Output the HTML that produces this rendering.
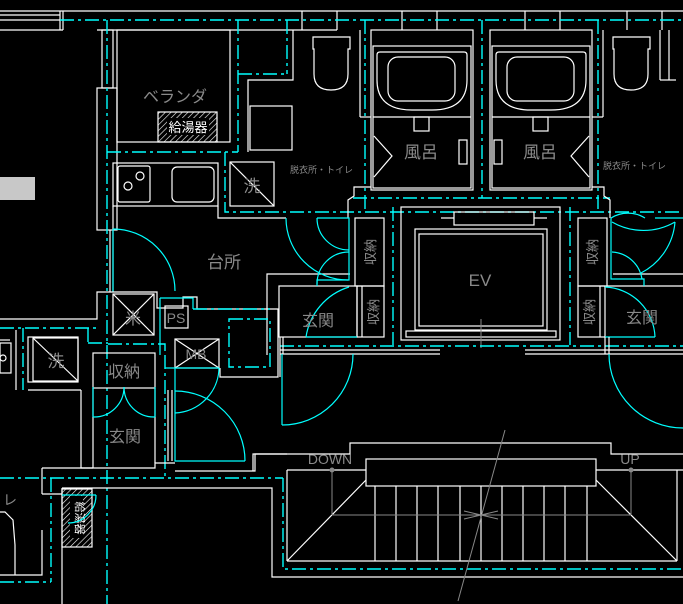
<!DOCTYPE html>
<html><head><meta charset="utf-8"><style>
html,body{margin:0;padding:0;background:#000;}
svg{display:block}
.w{stroke:#fff;stroke-width:1.2;fill:none}
.c{stroke:#00ffff;stroke-width:1.2;fill:none}
.d{stroke:#00ffff;stroke-width:1.4;fill:none;stroke-dasharray:14 4 3 4}
.g{stroke:#888;stroke-width:1;fill:none}
text{font-family:"Liberation Sans","Noto Sans CJK JP",sans-serif;fill:#8a8a8a}
</style></head><body>
<svg width="683" height="604" viewBox="0 0 683 604" xmlns="http://www.w3.org/2000/svg">
<defs>
<pattern id="h" width="4" height="4" patternUnits="userSpaceOnUse" patternTransform="rotate(45)"><line x1="0" y1="0" x2="0" y2="4" stroke="#fff" stroke-width="1.2"/></pattern>
</defs>
<rect width="683" height="604" fill="#000"/>
<line class="w" x1="0" y1="11" x2="683" y2="11"/>
<line class="w" x1="0" y1="15" x2="60" y2="15"/>
<line class="w" x1="0" y1="20" x2="60" y2="20"/>
<line class="w" x1="0" y1="30" x2="63" y2="30"/>
<line class="w" x1="60" y1="11" x2="60" y2="30"/>
<line class="w" x1="63" y1="11" x2="63" y2="30"/>
<line class="w" x1="97" y1="30" x2="302" y2="30"/>
<line class="w" x1="302" y1="11" x2="302" y2="30"/>
<line class="w" x1="337" y1="11" x2="337" y2="30"/>
<line class="w" x1="302" y1="30" x2="337" y2="30"/>
<line class="w" x1="402" y1="11" x2="402" y2="30"/>
<line class="w" x1="437" y1="11" x2="437" y2="30"/>
<line class="w" x1="525" y1="11" x2="525" y2="30"/>
<line class="w" x1="560" y1="11" x2="560" y2="30"/>
<line class="w" x1="627" y1="11" x2="627" y2="30"/>
<line class="w" x1="662" y1="11" x2="662" y2="30"/>
<line class="d" x1="60" y1="20" x2="683" y2="20"/>
<rect class="w" x="102" y="30" width="11" height="58"/>
<rect class="w" x="97" y="88" width="20" height="142"/>
<line class="d" x1="107" y1="20" x2="107" y2="604"/>
<rect class="w" x="117" y="30" width="113" height="112"/>
<rect x="158" y="112" width="59" height="30" fill="url(#h)" stroke="#fff" stroke-width="1.2"/>
<rect x="167" y="118" width="42" height="17" fill="#000"/>
<text x="188" y="132" font-size="13" text-anchor="middle" style="fill:#fff">給湯器</text>
<text x="175" y="102" font-size="16" text-anchor="middle">ベランダ</text>
<line class="d" x1="238" y1="20" x2="238" y2="152"/>
<line class="d" x1="107" y1="152" x2="238" y2="152"/>
<line class="d" x1="238" y1="74" x2="287" y2="74"/>
<line class="d" x1="287" y1="20" x2="287" y2="74"/>
<polyline class="w" points="248,152 248,80 293,80 293,30"/>
<rect class="w" x="250" y="106" width="42" height="44"/>
<rect x="0" y="177" width="35" height="23" fill="#c8c8c8"/>
<rect class="w" x="113" y="163" width="105" height="43"/>
<rect class="w" x="118" y="166" width="32" height="36" rx="2"/>
<circle cx="140" cy="176" r="4" class="w"/><circle cx="128" cy="186" r="4" class="w"/>
<rect class="w" x="172" y="167" width="42" height="35" rx="5"/>
<polyline class="w" points="218,206 218,218 286,218"/>
<polyline class="d" points="225,152 225,212 683,212"/>
<rect class="w" x="230" y="162" width="44" height="44"/>
<line class="w" x1="230" y1="162" x2="274" y2="206"/>
<text x="252" y="192" font-size="17" text-anchor="middle">洗</text>
<text x="290" y="173" font-size="9">脱衣所・トイレ</text>
<text x="603" y="169" font-size="9">脱衣所・トイレ</text>
<line class="w" x1="113" y1="206" x2="113" y2="292"/>
<line class="w" x1="110" y1="230" x2="110" y2="292"/>
<path class="c" d="M113,229 A62,62 0 0 1 175,291"/>
<line class="c" x1="113" y1="229" x2="113" y2="292"/>
<text x="224" y="268" font-size="17" text-anchor="middle">台所</text>
<path class="w" d="M313,37 h37 v12 h-2 v25 q0,16 -17,16 q-17,0 -17,-16 v-25 h-1z"/>
<path class="w" d="M613,37 h37 v12 h-2 v25 q0,16 -17,16 q-17,0 -17,-16 v-25 h-1z"/>
<line class="w" x1="660" y1="30" x2="660" y2="80"/><line class="w" x1="660" y1="80" x2="676" y2="80"/>
<line class="w" x1="669" y1="30" x2="669" y2="80"/>
<g>
<rect class="w" x="371" y="30" width="102" height="160"/>
<rect class="w" x="373" y="46" width="98" height="142"/>
<path class="w" d="M377,55 q0,-3 3,-3 h84 q3,0 3,3 v25 q0,30 -35,30 h-20 q-35,0 -35,-30z"/>
<rect class="w" x="388" y="57" width="67" height="44" rx="10"/>
<line class="w" x1="373" y1="117" x2="471" y2="117"/>
<rect class="w" x="414" y="117" width="15" height="14"/>
<polyline class="w" points="374,136 392,156 374,177"/>
<rect class="w" x="459" y="140" width="8" height="24"/>
<text x="421" y="158" font-size="17" text-anchor="middle">風呂</text>
</g>
<g>
<rect class="w" x="490" y="30" width="102" height="160"/>
<rect class="w" x="492" y="46" width="98" height="142"/>
<path class="w" d="M496,55 q0,-3 3,-3 h84 q3,0 3,3 v25 q0,30 -35,30 h-20 q-35,0 -35,-30z"/>
<rect class="w" x="507" y="57" width="67" height="44" rx="10"/>
<line class="w" x1="492" y1="117" x2="590" y2="117"/>
<rect class="w" x="533" y="117" width="15" height="14"/>
<polyline class="w" points="589,136 571,156 589,177"/>
<rect class="w" x="494" y="140" width="8" height="24"/>
<text x="540" y="158" font-size="17" text-anchor="middle">風呂</text>
</g>
<line class="w" x1="360" y1="30" x2="360" y2="117"/><line class="w" x1="360" y1="117" x2="371" y2="117"/>
<line class="w" x1="603" y1="30" x2="603" y2="117"/><line class="w" x1="592" y1="117" x2="603" y2="117"/>
<line class="d" x1="365" y1="20" x2="365" y2="212"/>
<line class="d" x1="482" y1="20" x2="482" y2="198"/>
<line class="d" x1="598" y1="20" x2="598" y2="212"/>
<line class="d" x1="353" y1="198" x2="610" y2="198"/>
<polyline class="w" points="348,218 348,200 354,196 354,187 371,187"/>
<polyline class="w" points="610,218 610,200 604,196 604,187 592,187"/>
<rect class="w" x="401" y="207" width="159" height="133"/>
<rect class="w" x="415" y="229" width="132" height="101"/>
<rect class="w" x="419" y="234" width="124" height="92"/>
<rect class="w" x="454" y="212" width="80" height="13"/>
<line class="w" x1="441" y1="218" x2="454" y2="218"/><line class="w" x1="534" y1="218" x2="547" y2="218"/>
<rect class="w" x="406" y="331" width="150" height="6"/>
<line class="g" x1="481" y1="319" x2="481" y2="348"/>
<text x="480" y="286" font-size="17" text-anchor="middle">EV</text>
<line class="d" x1="393" y1="207" x2="393" y2="345"/>
<line class="d" x1="570" y1="207" x2="570" y2="345"/>
<rect class="w" x="355" y="218" width="29" height="68"/>
<rect class="w" x="357" y="286" width="27" height="51"/>
<line class="w" x1="362" y1="286" x2="362" y2="337"/>
<text x="0" y="0" font-size="13" transform="translate(375,252) rotate(-90)" text-anchor="middle">収納</text>
<text x="0" y="0" font-size="13" transform="translate(378,312) rotate(-90)" text-anchor="middle">収納</text>
<rect class="w" x="279" y="286" width="78" height="51"/>
<polyline class="w" points="267,355 267,274 350,274"/>
<polyline class="c" points="317,218 349,218 349,280 317,280 317,286"/>
<path class="c" d="M286,218 A62,62 0 0 0 348,280"/>
<path class="c" d="M317,218 A32,32 0 0 0 349,250"/>
<path class="c" d="M349,252 A32,32 0 0 0 317,284"/>
<path class="c" d="M349,287 A62,62 0 0 0 306,337"/>
<polyline class="c" points="306,337 357,337"/>
<text x="318" y="326" font-size="16" text-anchor="middle">玄関</text>
<rect class="w" x="578" y="218" width="29" height="68"/>
<rect class="w" x="578" y="286" width="27" height="51"/>
<line class="w" x1="600" y1="286" x2="600" y2="337"/>
<text x="0" y="0" font-size="13" transform="translate(597,252) rotate(-90)" text-anchor="middle">収納</text>
<text x="0" y="0" font-size="13" transform="translate(594,312) rotate(-90)" text-anchor="middle">収納</text>
<line class="w" x1="607" y1="286" x2="683" y2="286"/>
<line class="w" x1="613" y1="274" x2="683" y2="274"/>
<polyline class="c" points="611,218 611,279 644,279 644,286"/>
<path class="c" d="M611,218 A32,32 0 0 1 645,218"/>
<path class="c" d="M612,252 A32,32 0 0 1 642,279"/>
<path class="c" d="M612,222 A63,63 0 0 0 675,222"/>
<path class="c" d="M675,222 A63,63 0 0 1 641,273"/>
<line class="c" x1="655" y1="218" x2="683" y2="218"/>
<path class="c" d="M605,287 A52,52 0 0 1 655,337"/>
<polyline class="c" points="605,337 655,337"/>
<text x="642" y="323" font-size="16" text-anchor="middle">玄関</text>
<line class="d" x1="280" y1="346" x2="683" y2="346"/>
<line class="w" x1="280" y1="350" x2="440" y2="350"/>
<line class="w" x1="280" y1="354" x2="440" y2="354"/>
<line class="w" x1="525" y1="350" x2="683" y2="350"/>
<line class="w" x1="525" y1="354" x2="683" y2="354"/>
<line class="w" x1="280" y1="337" x2="280" y2="377"/>
<line class="w" x1="283" y1="337" x2="283" y2="354"/>
<line class="w" x1="605" y1="337" x2="605" y2="354"/>
<line class="w" x1="609" y1="337" x2="609" y2="354"/>
<line class="c" x1="282" y1="354" x2="282" y2="425"/>
<path class="c" d="M282,425 A71,71 0 0 0 353,354"/>
<path class="c" d="M609,354 A74,74 0 0 0 683,428"/>
<polyline class="w" points="0,319 97,319 97,292 157,292 157,308 183,308 183,297 197,297 197,309 278,309 278,377 220,377 220,368"/>
<rect class="w" x="113" y="294" width="41" height="41"/>
<line class="w" x1="113" y1="294" x2="154" y2="335"/><line class="w" x1="154" y1="294" x2="113" y2="335"/>
<text x="133" y="324" font-size="16" text-anchor="middle">米</text>
<rect class="w" x="165" y="306" width="23" height="22"/>
<text x="176" y="323" font-size="14" text-anchor="middle">PS</text>
<polyline class="c" points="160,298 193,298 193,309"/>
<line class="c" x1="160" y1="298" x2="160" y2="355"/>
<line class="d" x1="193" y1="309" x2="270" y2="309"/>
<rect class="d" x="229" y="319" width="41" height="48" style="fill:none"/>
<rect class="w" x="175" y="339" width="44" height="29"/>
<line class="w" x1="175" y1="339" x2="219" y2="368"/><line class="w" x1="219" y1="339" x2="175" y2="368"/>
<text x="196" y="359" font-size="14" text-anchor="middle">MB</text>
<line class="c" x1="165" y1="368" x2="219" y2="368"/>
<path class="c" d="M219,368 A46,46 0 0 1 175,413"/>
<path class="c" d="M175,391 A70,70 0 0 1 245,461"/>
<polyline class="c" points="175,368 175,461 245,461"/>
<line class="w" x1="172" y1="390" x2="172" y2="461"/>
<line class="w" x1="168" y1="390" x2="168" y2="461"/>
<polyline class="w" points="175,471 255,471 255,454 287,454"/>
<line class="d" x1="0" y1="328" x2="100" y2="328"/>
<line class="d" x1="88" y1="328" x2="88" y2="343"/>
<line class="d" x1="23" y1="328" x2="23" y2="390"/>
<polyline class="d" points="88,343 108,343"/>
<polyline class="d" points="108,344 165,344 165,355"/>
<rect class="w" x="28" y="337" width="50" height="45"/>
<rect class="w" x="33" y="338" width="45" height="43"/>
<line class="w" x1="33" y1="338" x2="78" y2="381"/>
<text x="56" y="367" font-size="17" text-anchor="middle">洗</text>
<line class="w" x1="16" y1="330" x2="16" y2="390"/>
<line class="w" x1="28" y1="390" x2="81" y2="390"/>
<line class="w" x1="0" y1="340" x2="10" y2="340"/>
<rect class="w" x="0" y="343" width="11" height="30"/>
<circle class="w" cx="3" cy="358" r="3"/>
<polyline class="w" points="81,390 81,468 93,468"/>
<rect class="w" x="93" y="353" width="62" height="35"/>
<text x="124" y="377" font-size="16" text-anchor="middle">収納</text>
<line class="w" x1="93" y1="388" x2="93" y2="468"/>
<line class="w" x1="155" y1="388" x2="155" y2="463"/>
<path class="c" d="M93,417 A30,30 0 0 0 124,387"/>
<path class="c" d="M155,417 A30,30 0 0 1 124,387"/>
<line class="c" x1="93" y1="387" x2="93" y2="417"/>
<line class="c" x1="155" y1="387" x2="155" y2="417"/>
<text x="125" y="442" font-size="16" text-anchor="middle">玄関</text>
<line class="d" x1="165" y1="355" x2="165" y2="478"/>
<polyline class="w" points="42,468 155,468 155,463 175,463"/>
<polyline class="w" points="42,468 42,494"/>
<line class="w" x1="42" y1="494" x2="62" y2="494"/>
<line class="d" x1="0" y1="478" x2="283" y2="478"/>
<polyline class="d" points="283,478 283,569 683,569"/>
<polyline class="w" points="62,488 272,488 272,577 683,577"/>
<polyline class="w" points="62,488 62,604"/>
<rect x="62" y="489" width="30" height="58" fill="url(#h)" stroke="#fff" stroke-width="1.2"/>
<rect x="70" y="496" width="13" height="42" fill="#000"/>
<text x="0" y="0" font-size="11" transform="translate(76,518) rotate(90)" text-anchor="middle" style="fill:#fff">給湯器</text>
<path class="c" d="M96,495 A28,28 0 0 1 68,523"/>
<line class="c" x1="62" y1="495" x2="96" y2="495"/>
<line class="d" x1="51" y1="478" x2="51" y2="582"/>
<line class="d" x1="0" y1="582" x2="51" y2="582"/>
<polyline class="w" points="42,530 42,575 0,575"/>
<polyline class="w" points="0,512 5,512 13,520 15,545 15,575"/>
<text x="3" y="505" font-size="14">レ</text>
<polyline class="w" points="253,471 253,454 350,454 350,443 611,443 611,454 683,454"/>
<rect class="w" x="366" y="459" width="230" height="27"/>
<line class="w" x1="287" y1="470" x2="366" y2="470"/>
<line class="w" x1="596" y1="470" x2="683" y2="470"/>
<line class="w" x1="287" y1="470" x2="287" y2="561"/>
<line class="w" x1="677" y1="470" x2="677" y2="561"/>
<line class="w" x1="287" y1="561" x2="677" y2="561"/>
<line class="w" x1="287" y1="561" x2="366" y2="480"/>
<line class="w" x1="677" y1="561" x2="596" y2="480"/>
<g class="w">
<line x1="375" y1="486" x2="375" y2="561"/><line x1="396" y1="486" x2="396" y2="561"/>
<line x1="417" y1="486" x2="417" y2="561"/><line x1="438" y1="486" x2="438" y2="561"/>
<line x1="460" y1="486" x2="460" y2="561"/><line x1="481" y1="486" x2="481" y2="561"/>
<line x1="502" y1="486" x2="502" y2="561"/><line x1="523" y1="486" x2="523" y2="561"/>
<line x1="544" y1="486" x2="544" y2="561"/><line x1="565" y1="486" x2="565" y2="561"/>
<line x1="587" y1="486" x2="587" y2="561"/>
</g>
<line class="g" x1="332" y1="470" x2="332" y2="515"/>
<line class="g" x1="631" y1="470" x2="631" y2="515"/>
<circle cx="332" cy="470" r="2.5" fill="#888"/><circle cx="631" cy="470" r="2.5" fill="#888"/>
<line class="g" x1="332" y1="515" x2="631" y2="515"/>
<line class="g" x1="505" y1="430" x2="458" y2="601"/>
<line class="g" x1="464" y1="511" x2="498" y2="519"/><line class="g" x1="464" y1="519" x2="498" y2="511"/>
<text x="330" y="464" font-size="14" text-anchor="middle">DOWN</text>
<text x="630" y="464" font-size="14" text-anchor="middle">UP</text>
</svg>
</body></html>
